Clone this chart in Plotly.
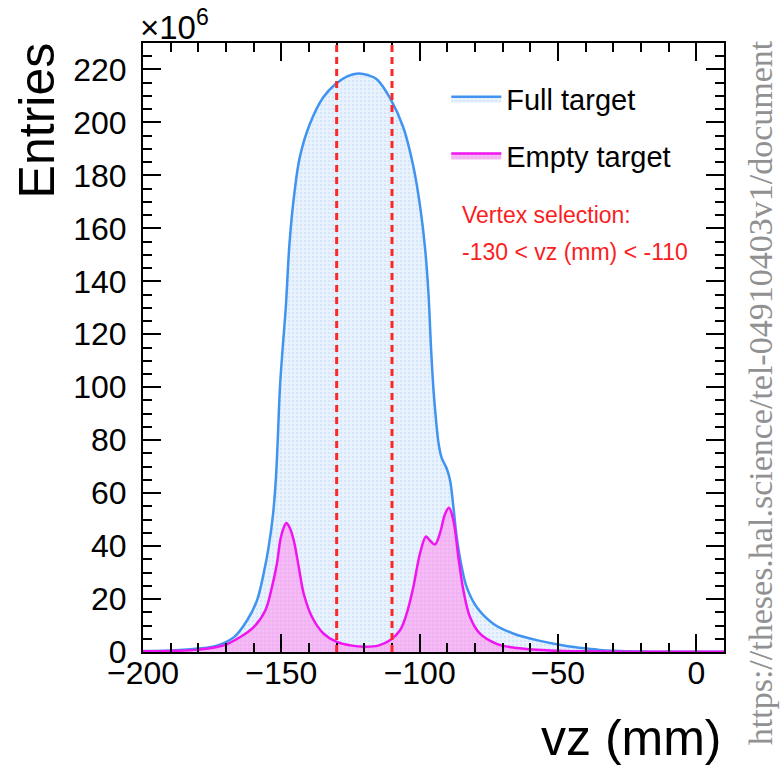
import plotly.graph_objects as go

# Vertex z distributions (entries in units of 10^6)
full_vz = [-200, -190, -180, -173, -167, -162.4, -158.8, -156.4, -154.6, -153, -152, -151.3,
           -150.5, -149.5, -148.4, -147, -145.2, -143.3, -139.7, -134.9, -130.4, -126, -122.2,
           -118.5, -115.5, -110.5, -105.9, -102.2, -99.8, -98, -96.8, -95.9, -95, -94.2, -93.2,
           -92.1, -90.2, -89, -87.8, -86.6, -84.8, -83, -79.4, -73.4, -66, -56.5, -47, -39.6,
           -35, -30, -20, -10, 0, 10]
full_entries = [0.4, 0.6, 1.3, 2.5, 5.7, 11.9, 19.5, 29.6, 39.6, 52, 65, 80,
                100, 115, 130, 155, 174, 187, 199.4, 209.4, 214.5, 217.5, 218.5,
                217.8, 216.3, 208.8, 198.1, 183, 168, 152, 135, 115, 99, 89, 79,
                73.5, 69.2, 64.8, 54.7, 43.4, 32.1, 24.5, 17, 10.7, 6.9, 4.2, 2.3, 1.3,
                0.8, 0.5, 0.2, 0.1, 0.05, 0.05]

empty_vz = [-200, -190, -180, -170.8, -164.8, -160, -155.8, -153.4, -151.6, -150.4, -149.3,
            -148.2, -147, -145.5, -143.7, -141.9, -138.9, -134.7, -130, -125, -120, -115,
            -110.6, -107.1, -104.7, -102.3, -99.9, -97.7, -96.3, -94.5, -92.7, -90.8, -89.4,
            -87.8, -86, -84.2, -81.8, -78.2, -72.2, -64.9, -52.9, -39.6, -20, 0, 10]
empty_entries = [0.3, 0.4, 0.9, 2.5, 5.7, 9.4, 15.7, 24.5, 33.3, 42.1, 46.5,
                 48.7, 47, 42.1, 32.1, 22, 13.2, 6.9, 3.8, 2.5, 2.0, 2.4,
                 4.5, 8.2, 14.5, 24.5, 37.1, 43.6, 42.1, 40.6, 44.7, 52.2, 54.5,
                 49.7, 35.8, 23.3, 13.2, 6.9, 3.1, 1.5, 0.6, 0.25, 0.1, 0.05, 0.05]

# Vertex selection window (mm)
cut_edges = [-130, -110]

FONT = "Liberation Sans, Arial, Helvetica, sans-serif"

fig = go.Figure()

fig.add_trace(go.Scatter(
    x=full_vz, y=full_entries, mode="lines", name="Full target",
    line=dict(color="rgb(64,148,240)", width=2.5, shape="spline", smoothing=1.0),
    fill="tozeroy",
    fillpattern=dict(shape=".", bgcolor="rgb(234,243,253)", fgcolor="rgb(192,217,247)",
                     size=4, solidity=0.35),
    legendgroup="full",
))
fig.add_trace(go.Scatter(
    x=empty_vz, y=empty_entries, mode="lines", name="Empty target",
    line=dict(color="rgb(240,20,240)", width=2.5, shape="spline", smoothing=1.0),
    fill="tozeroy",
    fillpattern=dict(shape="+", bgcolor="rgb(246,190,246)", fgcolor="rgb(232,140,236)",
                     size=4, solidity=0.3),
    legendgroup="empty",
))

for xc in cut_edges:
    fig.add_shape(type="line", xref="x", yref="paper", x0=xc, x1=xc, y0=0, y1=1,
                  line=dict(color="rgb(250,40,40)", width=3, dash="7px,5px"))

axis_common = dict(
    showline=True, linecolor="black", linewidth=2, mirror="allticks",
    ticks="inside", tickcolor="black", tickwidth=1.5, ticklen=18,
    showgrid=False, zeroline=False,
    tickfont=dict(family=FONT, size=32, color="black"),
)

fig.update_xaxes(
    range=[-200, 10], tick0=-200, dtick=50,
    minor=dict(ticks="inside", dtick=10, ticklen=9, tickcolor="black", tickwidth=1.5),
    ticklabelstandoff=-8,
    **axis_common,
)
fig.update_yaxes(
    range=[0, 230], tick0=0, dtick=20,
    minor=dict(ticks="inside", dtick=5, ticklen=9, tickcolor="black", tickwidth=1.5),
    ticklabelstandoff=8,
    **axis_common,
)

fig.add_annotation(text="Entries", xref="paper", yref="paper", x=-0.235, y=1.005,
                   xanchor="left", yanchor="top", textangle=-90, showarrow=False,
                   font=dict(family=FONT, size=50, color="black"))
fig.add_annotation(text="vz (mm)", xref="paper", yref="paper", x=1.0, y=-0.141,
                   xanchor="right", yanchor="middle", showarrow=False,
                   font=dict(family=FONT, size=50, color="black"))
fig.add_annotation(text="×10<sup>6</sup>", xref="paper", yref="paper", x=-0.008, y=1.03,
                   xanchor="left", yanchor="middle", showarrow=False,
                   font=dict(family=FONT, size=33, color="black"))
fig.add_annotation(text="Vertex selection:", xref="paper", yref="paper", x=0.545, y=0.7176,
                   xanchor="left", yanchor="middle", showarrow=False,
                   font=dict(family=FONT, size=23, color="rgb(250,30,30)"))
fig.add_annotation(text="-130 < vz (mm) < -110", xref="paper", yref="paper", x=0.545, y=0.657,
                   xanchor="left", yanchor="middle", showarrow=False,
                   font=dict(family=FONT, size=23, color="rgb(250,30,30)"))
fig.add_annotation(text="https://theses.hal.science/tel-04910403v1/document",
                   xref="paper", yref="paper", x=1.062, y=0.425,
                   xanchor="center", yanchor="middle", textangle=-90, showarrow=False,
                   font=dict(family="Liberation Serif, DejaVu Serif, serif", size=34,
                             color="rgb(145,145,145)"))

fig.update_layout(
    width=782, height=768,
    margin=dict(l=143, r=58, t=43, b=116),
    plot_bgcolor="white", paper_bgcolor="white",
    legend=dict(x=0.522, y=0.95, xanchor="left", yanchor="top",
                font=dict(family=FONT, size=29, color="black"),
                bgcolor="rgba(0,0,0,0)", tracegroupgap=16, itemwidth=50),
    showlegend=True,
)

fig.write_html("out.html")
